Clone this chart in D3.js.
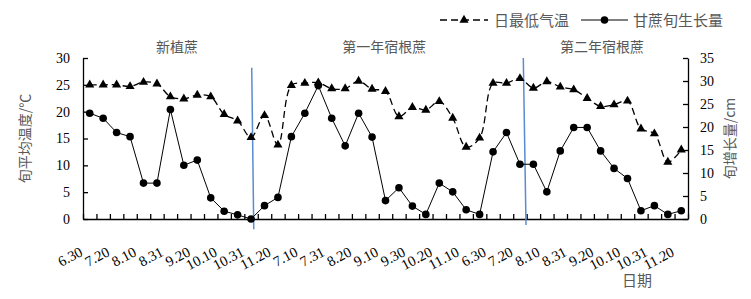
<!DOCTYPE html>
<html>
<head>
<meta charset="utf-8">
<script src="https://cdn.jsdelivr.net/npm/d3@7"></script>
<style>
  body { margin: 0; background: #fff; }
  svg { display: block; }
</style>
</head>
<body>
<svg id="chart"></svg>
<script>
const WIDTH = 751;
const HEIGHT = 299;

// data, one value per ten-day period (旬)
const dates = [
  "6.30","7.10","7.20","7.31","8.10","8.20","8.31","9.10","9.20","9.30","10.10","10.20","10.31","11.10","11.20",
  "6.30","7.10","7.20","7.31","8.10","8.20","8.31","9.10","9.20","9.30","10.10","10.20","10.31","11.10","11.20",
  "6.30","7.10","7.20","7.31","8.10","8.20","8.31","9.10","9.20","9.30","10.10","10.20","10.31","11.10","11.20"
];
const minTemp = [
  25.0, 25.0, 25.0, 24.7, 25.5, 25.2, 22.8, 22.4, 23.1, 22.8, 19.5, 18.3, 15.2, 19.3, 13.8,
  24.9, 25.3, 25.4, 24.3, 24.3, 25.7, 24.2, 23.8, 19.1, 20.8, 20.3, 21.9, 18.8, 13.4, 15.1,
  25.3, 25.3, 26.2, 24.4, 25.6, 24.6, 24.1, 22.5, 21.0, 21.3, 22.0, 16.8, 15.9, 10.6, 12.9
];
const growth = [
  23.0, 21.9, 18.8, 17.9, 7.8, 7.8, 23.8, 11.7, 12.8, 4.6, 1.7, 0.9, 0.0, 2.9, 4.7,
  17.9, 23.0, 29.0, 21.9, 15.9, 23.0, 17.8, 4.0, 6.8, 2.8, 1.0, 7.8, 5.9, 2.0, 1.0,
  14.6, 18.8, 11.9, 11.9, 5.9, 14.8, 19.9, 19.9, 14.8, 11.0, 8.8, 1.8, 2.9, 1.0, 1.8
];
const sections = ["新植蔗", "第一年宿根蔗", "第二年宿根蔗"];
const sectionCenters = [6.5, 21.9, 38.1];      // in category units
const dividers = [[12.05, 12.2], [32.25, 32.45]]; // top / bottom, category units
const leftTicks = [0, 5, 10, 15, 20, 25, 30];
const rightTicks = [0, 5, 10, 15, 20, 25, 30, 35];

const MARGIN = { top: 58, bottom: 80, left: 83, right: 63 };

const svg = d3.select("#chart")
  .attr("width", WIDTH)
  .attr("height", HEIGHT);

const SERIF = "'Liberation Serif', 'Times New Roman', serif";
const CJK = "'Noto Sans CJK SC', sans-serif";
const GREY = "#595959";

const x = d3.scaleLinear()
  .domain([-0.5, dates.length - 0.5])
  .range([MARGIN.left, WIDTH - MARGIN.right]);

const yL = d3.scaleLinear().domain([0, 30]).range([HEIGHT - MARGIN.bottom, MARGIN.top]);
const yR = d3.scaleLinear().domain([0, 35]).range([HEIGHT - MARGIN.bottom, MARGIN.top]);

// left axis
const axL = svg.append("g")
  .attr("transform", `translate(${MARGIN.left},0)`)
  .call(d3.axisLeft(yL).tickValues(leftTicks).tickSizeInner(-5).tickSizeOuter(0).tickPadding(13));
// right axis
const axR = svg.append("g")
  .attr("transform", `translate(${WIDTH - MARGIN.right},0)`)
  .call(d3.axisRight(yR).tickValues(rightTicks).tickSizeInner(-5).tickSizeOuter(0).tickPadding(12));

[axL, axR].forEach(g => {
  g.select(".domain").attr("stroke", "#000").attr("stroke-width", 1.3);
  g.selectAll(".tick line").attr("stroke", "#000").attr("stroke-width", 1.3);
  g.selectAll("text")
    .attr("font-family", SERIF)
    .attr("font-size", 14)
    .attr("fill", "#000");
});

// bottom axis: ticks at category boundaries, inside
const boundaries = d3.range(dates.length + 1).map(i => i - 0.5);
const axB = svg.append("g")
  .attr("transform", `translate(0,${yL(0)})`)
  .call(d3.axisBottom(x).tickValues(boundaries).tickSizeInner(-5).tickSizeOuter(0).tickFormat(""));
axB.select(".domain").attr("stroke", "#000").attr("stroke-width", 1.3);
axB.selectAll(".tick line").attr("stroke", "#000").attr("stroke-width", 1.3);

// category labels, every second one, rotated
svg.append("g")
  .selectAll("text")
  .data(dates.map((d, i) => ({ d, i })).filter(o => o.i % 2 === 0))
  .enter()
  .append("text")
  .attr("transform", o => `translate(${x(o.i) - 6},${yL(0) + 36}) rotate(-28)`)
  .attr("text-anchor", "end")
  .attr("font-family", SERIF)
  .attr("font-size", 14.5)
  .attr("fill", "#000")
  .text(o => o.d);

// section dividers
svg.append("g")
  .selectAll("line")
  .data(dividers)
  .enter()
  .append("line")
  .attr("x1", d => x(d[0]))
  .attr("x2", d => x(d[1]))
  .attr("y1", (d, i) => i === 0 ? yL(28.2) : yL(30))
  .attr("y2", (d, i) => i === 0 ? yL(-1.9) : yL(-1.1))
  .attr("stroke", "#5b8bd0")
  .attr("stroke-width", 1.5);

// minimum temperature: smoothed dashed line with triangles
const tri = d3.symbol().type(d3.symbolTriangle).size(36);

svg.append("path")
  .datum(minTemp)
  .attr("fill", "none")
  .attr("stroke", "#000")
  .attr("stroke-width", 1.3)
  .attr("stroke-dasharray", "7,4")
  .attr("d", d3.line().x((d, i) => x(i)).y(d => yL(d)).curve(d3.curveCatmullRom.alpha(0.5)));

svg.append("g")
  .selectAll("path")
  .data(minTemp)
  .enter()
  .append("path")
  .attr("d", tri)
  .attr("transform", (d, i) => `translate(${x(i)},${yL(d)})`)
  .attr("fill", "#000");

// growth: solid line with circles
svg.append("path")
  .datum(growth)
  .attr("fill", "none")
  .attr("stroke", "#000")
  .attr("stroke-width", 1)
  .attr("d", d3.line().x((d, i) => x(i)).y(d => yR(d)));

svg.append("g")
  .selectAll("circle")
  .data(growth)
  .enter()
  .append("circle")
  .attr("cx", (d, i) => x(i))
  .attr("cy", d => yR(d))
  .attr("r", 3.8)
  .attr("fill", "#000");

// section names
svg.append("g")
  .selectAll("text")
  .data(sections)
  .enter()
  .append("text")
  .attr("x", (d, i) => x(sectionCenters[i]))
  .attr("y", 52)
  .attr("text-anchor", "middle")
  .attr("font-family", CJK)
  .attr("font-size", 14)
  .attr("fill", GREY)
  .text(d => d);

// axis titles
svg.append("text")
  .attr("transform", `translate(30,${(yL(0) + yL(30)) / 2}) rotate(-90)`)
  .attr("text-anchor", "middle")
  .attr("font-family", CJK)
  .attr("font-size", 14)
  .attr("fill", GREY)
  .text("旬平均温度/℃");

svg.append("text")
  .attr("transform", `translate(735,${(yL(0) + yL(30)) / 2}) rotate(-90)`)
  .attr("text-anchor", "middle")
  .attr("font-family", CJK)
  .attr("font-size", 14)
  .attr("fill", GREY)
  .text("旬增长量/cm");

svg.append("text")
  .attr("x", 637)
  .attr("y", 286)
  .attr("text-anchor", "middle")
  .attr("font-family", CJK)
  .attr("font-size", 15)
  .attr("fill", GREY)
  .text("日期");

// legend
const legend = svg.append("g").attr("transform", "translate(0,20)");
legend.append("line")
  .attr("x1", 440).attr("x2", 488)
  .attr("stroke", "#000").attr("stroke-width", 1.3).attr("stroke-dasharray", "7,4");
legend.append("path").attr("d", tri).attr("transform", "translate(464,0)").attr("fill", "#000");
legend.append("text")
  .attr("x", 494).attr("y", 5.5)
  .attr("font-family", CJK).attr("font-size", 15).attr("fill", GREY)
  .text("日最低气温");
legend.append("line")
  .attr("x1", 581).attr("x2", 628)
  .attr("stroke", "#000").attr("stroke-width", 1);
legend.append("circle").attr("cx", 604.5).attr("cy", 0).attr("r", 3.8).attr("fill", "#000");
legend.append("text")
  .attr("x", 633).attr("y", 5.5)
  .attr("font-family", CJK).attr("font-size", 15).attr("fill", GREY)
  .text("甘蔗旬生长量");
</script>
</body>
</html>
